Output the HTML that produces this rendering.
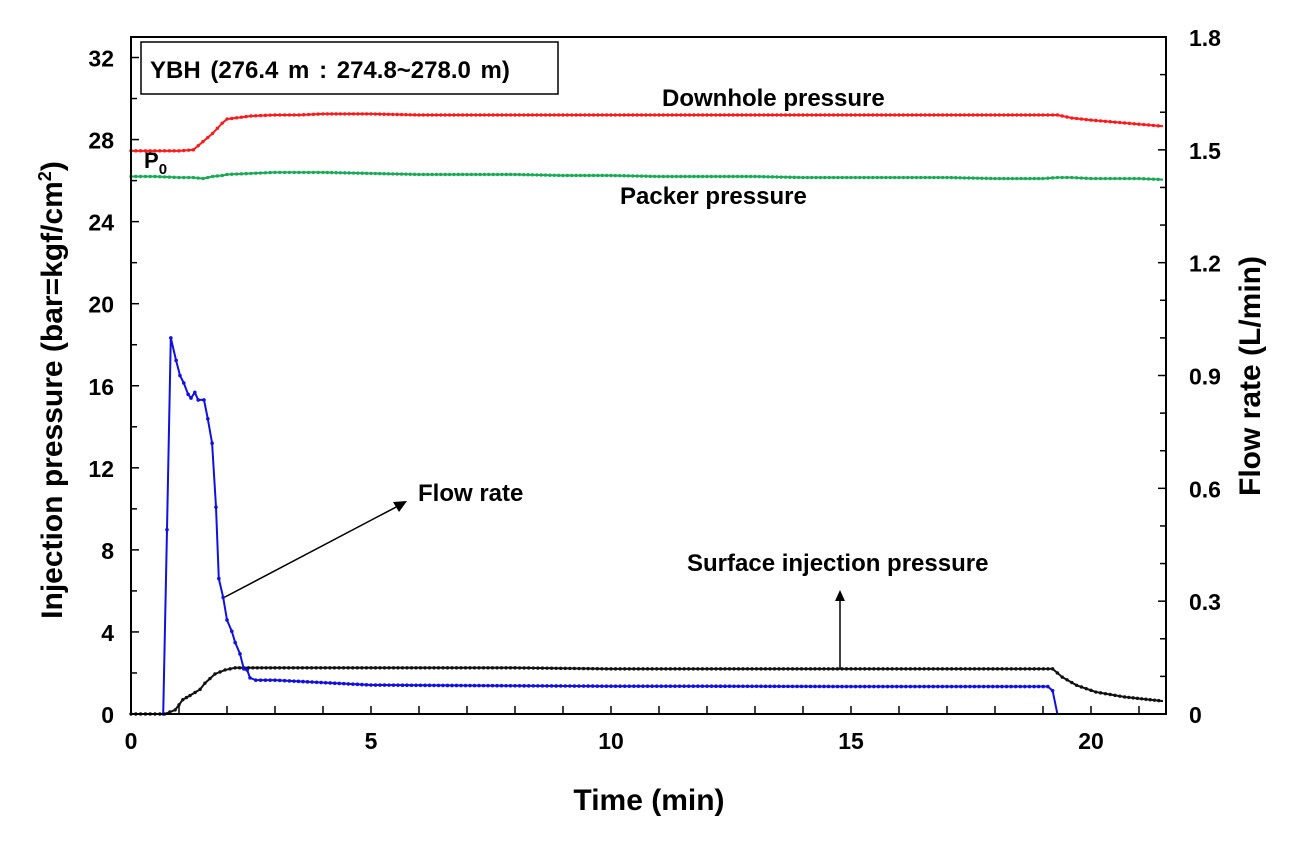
<!DOCTYPE html>
<html><head><meta charset="utf-8">
<style>
html,body{margin:0;padding:0;background:#fff;}
svg{display:block;font-family:"Liberation Sans",sans-serif;font-weight:bold;}
</style></head>
<body>
<svg id="chart" width="1303" height="860" viewBox="0 0 1303 860" xmlns="http://www.w3.org/2000/svg">
<g id="grid"></g>
<g id="series"></g>
<rect x="131" y="37" width="1035" height="677" fill="none" stroke="#000" stroke-width="2"/>
<g id="axes"></g>
<rect x="141" y="42" width="417" height="52" fill="#fff" stroke="#000" stroke-width="1.5"/>
<text x="150" y="78" font-size="24" word-spacing="3">YBH (276.4 m : 274.8~278.0 m)</text>
<text x="662" y="106" font-size="24">Downhole pressure</text>
<text x="620" y="204" font-size="24">Packer pressure</text>
<text x="144" y="168" font-size="22">P<tspan font-size="15" dy="6">0</tspan></text>
<text x="418" y="501" font-size="24">Flow rate</text>
<text x="687" y="571" font-size="24">Surface injection pressure</text>
<g>
<line x1="225" y1="597" x2="400" y2="505" stroke="#000" stroke-width="1.5"/>
<polygon points="407,501 393,502 399,512" fill="#000"/>
</g>
<g>
<line x1="840" y1="668" x2="840" y2="598" stroke="#000" stroke-width="1.5"/>
<polygon points="840,590 835,601 845,601" fill="#000"/>
</g>
<text x="649" y="810" font-size="30" text-anchor="middle">Time (min)</text>
<text transform="translate(62,390) rotate(-90)" font-size="30" text-anchor="middle">Injection pressure (bar=kgf/cm<tspan font-size="18" dy="-11">2</tspan><tspan dy="11">)</tspan></text>
<text transform="translate(1260,376) rotate(-90)" font-size="30" text-anchor="middle">Flow rate (L/min)</text>
</svg>
<script>
const timeDense = [0,0.5,1.0,1.3,1.5,1.7,1.9,2.0,2.5,3,3.5,4,5,6,7,8,9,10,11,12,13,14,15,16,17,18,19,19.3,19.6,20,20.5,21,21.5];
const downholeP = [27.45,27.45,27.45,27.5,27.9,28.3,28.8,29.0,29.15,29.2,29.2,29.25,29.25,29.2,29.2,29.2,29.2,29.2,29.2,29.2,29.2,29.2,29.2,29.2,29.2,29.2,29.2,29.2,29.05,28.95,28.85,28.75,28.65];
const packerP = [26.2,26.2,26.15,26.15,26.1,26.2,26.25,26.3,26.35,26.4,26.4,26.4,26.35,26.3,26.3,26.3,26.25,26.25,26.2,26.2,26.2,26.15,26.15,26.15,26.15,26.1,26.1,26.15,26.15,26.1,26.1,26.1,26.05];
const timeSurface = [0,0.7,0.92,1.08,1.23,1.44,1.54,1.75,1.96,2.17,3,5,8,10,12,15,17,19.2,19.4,19.7,20.1,20.7,21.5];
const surfaceP = [0,0,0.2,0.7,0.9,1.2,1.5,1.95,2.15,2.25,2.25,2.25,2.25,2.2,2.2,2.2,2.2,2.2,1.8,1.4,1.07,0.83,0.63];
const timeFlow = [0,0.67,0.75,0.83,0.94,1.02,1.1,1.19,1.25,1.33,1.4,1.52,1.6,1.69,1.77,1.83,1.92,2.0,2.1,2.17,2.27,2.35,2.42,2.48,2.6,3.0,3.3,5,8,10,12,15,17,19.1,19.2,19.3,21.5];
const flowRate = [0,0,0.49,1.0,0.94,0.9,0.88,0.85,0.84,0.855,0.835,0.835,0.785,0.72,0.55,0.36,0.31,0.25,0.22,0.19,0.16,0.12,0.117,0.096,0.09,0.09,0.088,0.077,0.075,0.074,0.074,0.073,0.073,0.073,0.062,0,0];
const leftTicks = [0,4,8,12,16,20,24,28,32];
const rightTicks = [0,0.3,0.6,0.9,1.2,1.5,1.8];
const xTicks = [0,5,10,15,20];

const X0=131,X1=1166,Y0=714,Y1=37;
const xS=t=>X0+t*48;
const yL=v=>Y0-v*(Y0-Y1)/33;
const yR=v=>Y0-v*(Y0-Y1)/1.8;
const NS="http://www.w3.org/2000/svg";
function mk(tag,attrs,parent){const e=document.createElementNS(NS,tag);for(const k in attrs)e.setAttribute(k,attrs[k]);parent.appendChild(e);return e;}
const axes=document.getElementById('axes'),series=document.getElementById('series');

for(let v=0;v<=32;v+=2){const l=mk('line',{x1:X0,x2:X0+(v%4===0?8:6),y1:yL(v),y2:yL(v),stroke:'#000','stroke-width':1.5},axes);

}
leftTicks.forEach(v=>{const t=mk('text',{x:X0-17,y:yL(v)+9,'font-size':23,'text-anchor':'end'},axes);t.textContent=v;

});
for(let i=0;i<=18;i++){const v=i/10;const l=mk('line',{x1:X1,x2:X1-(i%3===0?8:6),y1:yR(v),y2:yR(v),stroke:'#000','stroke-width':1.5},axes);

}
rightTicks.forEach(v=>{const t=mk('text',{x:1189,y:yR(v)+9,'font-size':23},axes);t.textContent=v===0?'0':v.toFixed(1);

});
for(let m=1;m<=21;m++){const l=mk('line',{x1:xS(m),x2:xS(m),y1:Y0,y2:Y0-8,stroke:'#000','stroke-width':1.5},axes);

}
xTicks.forEach(v=>{const t=mk('text',{x:xS(v),y:Y0+35,'font-size':23,'text-anchor':'middle'},axes);t.textContent=v;

});

function drawSeries(ts,vs,yf,color,name,r){
  const g=mk('g',{},series);
  
  
  const pts=ts.map((t,i)=>xS(t).toFixed(1)+','+yf(vs[i]).toFixed(1)).join(' ');
  mk('polyline',{points:pts,fill:'none',stroke:color,'stroke-width':2},g);
  for(let i=0;i<ts.length-1;i++){
    const xa=xS(ts[i]),ya=yf(vs[i]),xb=xS(ts[i+1]),yb=yf(vs[i+1]);
    const n=Math.max(1,Math.round((xb-xa)/4.5));
    for(let k=0;k<n;k++){const f=k/n;mk('circle',{cx:xa+(xb-xa)*f,cy:ya+(yb-ya)*f,r:r,fill:color},g);}
  }
}
drawSeries(timeDense,downholeP,yL,'#ff1a1a','downhole-pressure-line',1.7);
drawSeries(timeDense,packerP,yL,'#1aaa55','packer-pressure-line',1.7);
drawSeries(timeSurface,surfaceP,yL,'#111','surface-pressure-line',1.7);
(function(){
  const g=mk('g',{},series);
  
  
  const pts=timeFlow.map((t,i)=>xS(t).toFixed(1)+','+yR(flowRate[i]).toFixed(1)).join(' ');
  mk('polyline',{points:pts,fill:'none',stroke:'#1010e0','stroke-width':2},g);
  for(let i=0;i<timeFlow.length-1;i++){
    const xa=xS(timeFlow[i]),ya=yR(flowRate[i]),xb=xS(timeFlow[i+1]),yb=yR(flowRate[i+1]);
    if(flowRate[i]===0&&flowRate[i+1]===0)continue;
    const n=Math.max(1,Math.round((xb-xa)/4.5));
    for(let k=0;k<n;k++){const f=k/n;mk('circle',{cx:xa+(xb-xa)*f,cy:ya+(yb-ya)*f,r:1.8,fill:'#1010e0'},g);}
  }
})();
</script>
</body></html>
